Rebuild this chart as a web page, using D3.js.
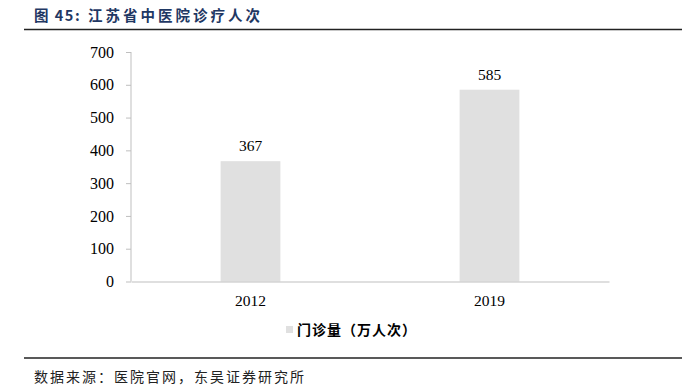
<!DOCTYPE html>
<html><head><meta charset="utf-8">
<script src="https://cdn.jsdelivr.net/npm/d3@7"></script>
<style>body{margin:0;background:#fff}svg{display:block}</style>
</head><body><svg id="c" width="694" height="392"></svg>
<script>
const categories = ["2012", "2019"];
const values = [367, 585];
const yTicks = [0, 100, 200, 300, 400, 500, 600, 700];
const seriesName = "门诊量（万人次）";
const titleNum = "图 45:";
const titleText = "江苏省中医院诊疗人次";
const sourceText = "数据来源：医院官网，东吴证券研究所";

const svg = d3.select("#c");
const serif = "'Liberation Serif','Times New Roman',serif";
const cjk = "'Noto Sans CJK SC',sans-serif";

svg.append("text").attr("x", 34).attr("y", 21).attr("font-family", cjk)
  .attr("font-weight", "bold").attr("font-size", 14.5).attr("fill", "#1f3864")
  .attr("letter-spacing", 1.5).text(titleNum);
svg.append("text").attr("x", 88).attr("y", 21).attr("font-family", cjk)
  .attr("font-weight", "bold").attr("font-size", 14.5).attr("fill", "#1f3864")
  .attr("letter-spacing", 3).text(titleText);
svg.append("line").attr("x1", 24).attr("x2", 682).attr("y1", 29.5).attr("y2", 29.5)
  .attr("stroke", "#222").attr("stroke-width", 1.5);

const x = d3.scaleBand().domain(categories).range([131, 609]).paddingInner(0.75).paddingOuter(0.375);
const y = d3.scaleLinear().domain([0, 700]).range([281.5, 52]);

const gy = svg.append("g").attr("transform", "translate(131,0)")
  .call(d3.axisLeft(y).tickValues(yTicks).tickSize(5).tickPadding(12).tickFormat(d3.format("d")));
gy.select(".domain").attr("stroke", "#bfbfbf").attr("d", "M0,52V281.5");
gy.selectAll(".tick line").attr("stroke", "#bfbfbf");
gy.selectAll("text").attr("font-family", serif).attr("font-size", 16).attr("fill", "#000");

svg.selectAll("rect.bar").data(values).enter().append("rect").attr("class", "bar")
  .attr("x", (d, i) => x(categories[i])).attr("width", x.bandwidth())
  .attr("y", d => y(d)).attr("height", d => y(0) - y(d)).attr("fill", "#e0e0e0");

svg.selectAll("text.lbl").data(values).enter().append("text").attr("class", "lbl")
  .attr("x", (d, i) => x(categories[i]) + x.bandwidth() / 2).attr("y", d => y(d) - 10)
  .attr("text-anchor", "middle").attr("font-family", serif).attr("font-size", 15.5).text(d => d);

const gx = svg.append("g").attr("transform", "translate(0,281.5)")
  .call(d3.axisBottom(x).tickSize(0).tickPadding(13));
gx.select(".domain").attr("stroke", "#bfbfbf");
gx.selectAll("text").attr("font-family", serif).attr("font-size", 15.5).attr("fill", "#000");

svg.append("rect").attr("x", 286).attr("y", 326).attr("width", 7).attr("height", 7).attr("fill", "#e0e0e0");
svg.append("text").attr("x", 297).attr("y", 335).attr("font-family", cjk).attr("font-weight", "bold")
  .attr("font-size", 14).attr("letter-spacing", 1).attr("fill", "#000").text(seriesName);

svg.append("line").attr("x1", 24).attr("x2", 682).attr("y1", 358).attr("y2", 358)
  .attr("stroke", "#222").attr("stroke-width", 1.5);
svg.append("text").attr("x", 34).attr("y", 382).attr("font-family", cjk)
  .attr("font-size", 14).attr("letter-spacing", 2).attr("fill", "#222").text(sourceText);
</script></body></html>
